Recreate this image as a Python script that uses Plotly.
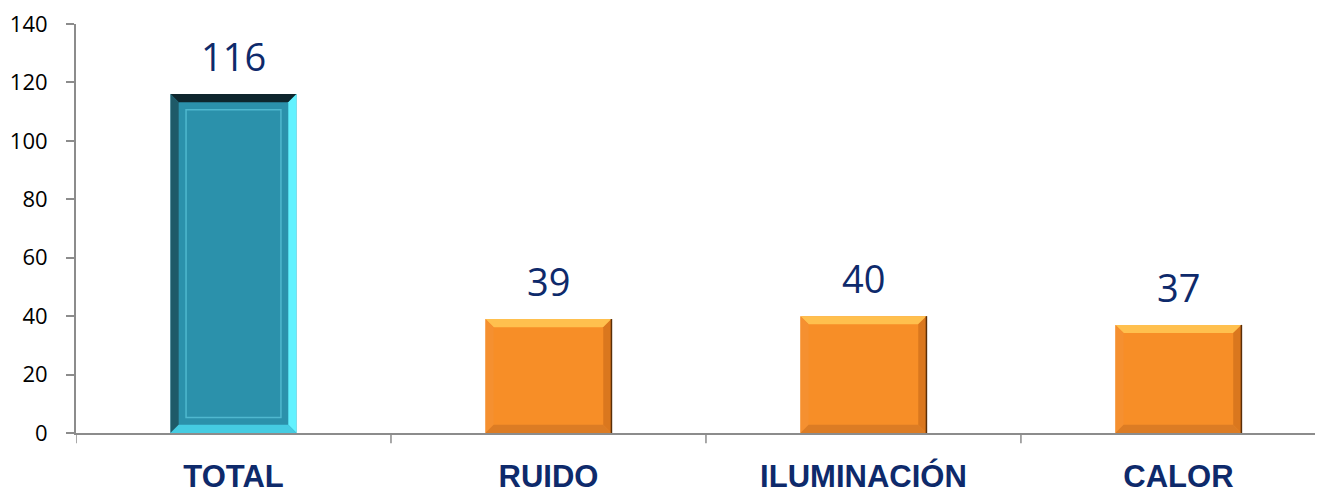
import plotly.graph_objects as go

categories = ["TOTAL", "RUIDO", "ILUMINACIÓN", "CALOR"]
values = [116, 39, 40, 37]
y_ticks = [0, 20, 40, 60, 80, 100, 120, 140]

TEAL = "#2B91AB"
ORANGE = "#F78E27"
bar_colors = [TEAL, ORANGE, ORANGE, ORANGE]
NAVY = "#0E2A6B"
AXIS = "#8C8C8C"

BAR_W = 0.4
fig = go.Figure()
fig.add_trace(go.Bar(
    x=list(range(len(categories))), y=values, width=BAR_W,
    marker=dict(color=bar_colors, line=dict(width=0)),
    hoverinfo="skip", showlegend=False,
))

# bevel decoration, derived from data via axis coordinates
bx = 0.026  # bevel width in x data units
by = 2.8    # bevel height in y data units


def path(pts):
    return "M " + " L ".join(f"{px},{py}" for px, py in pts) + " Z"


for i, v in enumerate(values):
    x0, x1 = i - BAR_W / 2, i + BAR_W / 2
    if categories[i] == "TOTAL":
        top, left, right, bottom = "#0E262D", "#1E5A68", "#62F2FF", "#45CCE2"
        inner = "#4FB8CF"
    else:
        top, left, right, bottom = "#FFC04E", "#F59030", "#DA771E", "#DC7C24"
        inner = None
    shapes = [
        (path([(x0, v), (x1, v), (x1 - bx, v - by), (x0 + bx, v - by)]), top),
        (path([(x0, 0), (x0, v), (x0 + bx, v - by), (x0 + bx, by)]), left),
        (path([(x1, 0), (x1, v), (x1 - bx, v - by), (x1 - bx, by)]), right),
        (path([(x0, 0), (x1, 0), (x1 - bx, by), (x0 + bx, by)]), bottom),
    ]
    for p, c in shapes:
        fig.add_shape(type="path", path=p, xref="x", yref="y",
                      fillcolor=c, line=dict(width=0), layer="above")
    if inner:
        fig.add_shape(type="rect", xref="x", yref="y",
                      x0=x0 + bx * 1.9, x1=x1 - bx * 1.9, y0=by * 1.9, y1=v - by * 1.9,
                      fillcolor="rgba(0,0,0,0)", line=dict(color=inner, width=1.5),
                      layer="above")
    else:
        fig.add_shape(type="line", xref="x", yref="y", x0=x1, x1=x1, y0=0, y1=v,
                      line=dict(color="#5A2E08", width=1.5), layer="above")
    fig.add_annotation(x=i, y=v, text=str(v), showarrow=False, yanchor="bottom",
                       yshift=10, font=dict(size=38, color=NAVY,
                                            family="Open Sans, Liberation Sans"))

fig.update_layout(
    width=1315, height=486,
    margin=dict(l=68, r=0, t=16, b=61),
    paper_bgcolor="white", plot_bgcolor="white",
    font=dict(family="Liberation Sans, Arial", color="black"),
    xaxis=dict(
        range=[-0.5, 3.459], automargin=False,
        tickmode="array", tickvals=list(range(len(categories))),
        ticktext=[f"<b>{c}</b>" for c in categories],
        showline=True, linecolor=AXIS, linewidth=2,
        ticks="", showgrid=False, zeroline=False, ticklabeloverflow="allow",
        tickfont=dict(size=31, color=NAVY, family="Liberation Sans, Arial"),
        ticklabelstandoff=15,
    ),
    yaxis=dict(
        range=[0, 140], tickvals=y_ticks, automargin=False,
        showline=True, linecolor=AXIS, linewidth=2,
        ticks="outside", ticklen=8, tickcolor=AXIS, tickwidth=1.5,
        showgrid=False, zeroline=False, ticklabeloverflow="allow",
        ticklabelstandoff=14,
        tickfont=dict(size=22, color="black", family="Open Sans, Liberation Sans"),
    ),
)
# category boundary ticks on x axis
for b in [-0.5, 0.5, 1.5, 2.5]:
    fig.add_shape(type="line", xref="x", yref="paper", x0=b, x1=b, y0=0, y1=-0.025,
                  line=dict(color=AXIS, width=1.5))

fig.write_html("out.html")
